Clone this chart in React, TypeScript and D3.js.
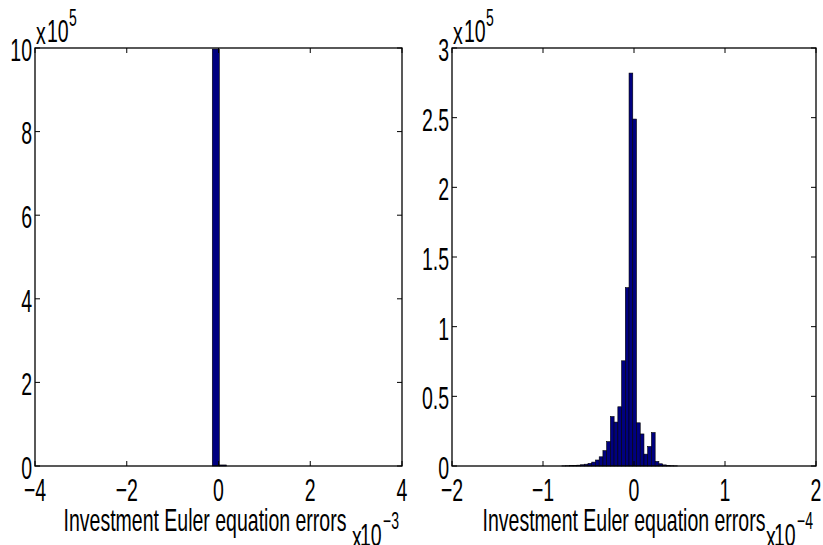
import React from 'react';
import * as d3 from 'd3';

// left panel: errors in units of 1e-3, counts raw
const leftCenters = [-0.059, 0.094];
const leftCounts = [997500, 2500];
const leftBinWidth = 0.153;
const leftXTicks = [-4, -2, 0, 2, 4];
const leftYTicks = [0, 2, 4, 6, 8, 10]; // x 1e5

// right panel: errors in units of 1e-4, counts in units of 1e5
const rightCenters = [
    -0.772, -0.731, -0.690, -0.649, -0.608, -0.567, -0.526, -0.485, -0.444, -0.403,
    -0.362, -0.321, -0.280, -0.239, -0.198, -0.157, -0.116, -0.075, -0.034, 0.007,
    0.048, 0.089, 0.130, 0.171, 0.212, 0.253, 0.294, 0.335, 0.376, 0.417, 0.458,
];
const rightCounts = [
    0.001, 0.002, 0.003, 0.004, 0.006, 0.009, 0.013, 0.019, 0.028, 0.043,
    0.066, 0.11, 0.175, 0.355, 0.315, 0.425, 0.755, 1.28, 2.82, 2.49,
    0.31, 0.23, 0.085, 0.14, 0.24, 0.033, 0.016, 0.008, 0.004, 0.002, 0.001,
];
const rightBinWidth = 0.041;
const rightXTicks = [-2, -1, 0, 1, 2];
const rightYTicks = [0, 0.5, 1, 1.5, 2, 2.5, 3];

const xLabel = 'Investment Euler equation errors';

const FONT = "'Liberation Sans', Arial, sans-serif";
const SY = 1.65;   // the original text is stretched vertically
const FS = 19.5;
const FS_SUP = 14;

const top = 48;
const bottom = 466;
const tick = 5;

function Txt({x, y, anchor = 'middle', size = FS, children}) {
    return (
        <text transform={`translate(${x},${y}) scale(1,${SY})`}
              textAnchor={anchor}
              dominantBaseline="central"
              fontSize={size}
              fontFamily={FONT}
              fill="#000">
            {children}
        </text>
    );
}

const fmt = v => (v < 0 ? '\u2212' + Math.abs(v) : String(v));

function Panel({left, right, xDomain, yDomain, xTicks, yTicks, centers, counts, binWidth, yDiv, xExp, yExp, labelX}) {
    const x = d3.scaleLinear().domain(xDomain).range([left, right]);
    const y = d3.scaleLinear().domain(yDomain).range([bottom, top]);

    return (
        <g>
            {centers.map((c, i) => (
                <rect key={i}
                      x={x(c - binWidth / 2)}
                      y={y(counts[i] / yDiv)}
                      width={x(c + binWidth / 2) - x(c - binWidth / 2)}
                      height={bottom - y(counts[i] / yDiv)}
                      fill="#000080"
                      stroke="#000"
                      strokeWidth={0.6}/>
            ))}

            <rect x={left} y={top} width={right - left} height={bottom - top}
                  fill="none" stroke="#000" strokeWidth={1.3}/>

            {xTicks.map(t => (
                <g key={'x' + t}>
                    <line x1={x(t)} x2={x(t)} y1={bottom} y2={bottom - tick} stroke="#000"/>
                    <line x1={x(t)} x2={x(t)} y1={top} y2={top + tick} stroke="#000"/>
                    <Txt x={x(t)} y={bottom + 24}>{fmt(t)}</Txt>
                </g>
            ))}

            {yTicks.map(t => (
                <g key={'y' + t}>
                    <line x1={left} x2={left + tick} y1={y(t)} y2={y(t)} stroke="#000"/>
                    <line x1={right} x2={right - tick} y1={y(t)} y2={y(t)} stroke="#000"/>
                    <Txt x={left - 3} y={y(t) + 2} anchor="end">{String(t)}</Txt>
                </g>
            ))}

            {/* exponent on the y axis */}
            <Txt x={left + 1} y={33} anchor="start">x</Txt>
            <Txt x={left + 12} y={31} anchor="start">10</Txt>
            <Txt x={left + 34} y={18} anchor="start" size={FS_SUP}>{yExp}</Txt>

            <Txt x={labelX} y={520}>{xLabel}</Txt>

            {/* exponent on the x axis */}
            <Txt x={right - 50} y={537} anchor="start">x</Txt>
            <Txt x={right - 42} y={535} anchor="start">10</Txt>
            <Txt x={right - 19} y={521} anchor="start" size={FS_SUP}>{xExp}</Txt>
        </g>
    );
}

export default function App() {
    return (
        <svg width={823} height={545} viewBox="0 0 823 545"
             style={{position: 'absolute', left: 0, top: 0, background: '#fff'}}>
            <rect width={823} height={545} fill="#fff"/>
            <Panel left={35} right={402}
                   xDomain={[-4, 4]} yDomain={[0, 10]}
                   xTicks={leftXTicks} yTicks={leftYTicks}
                   centers={leftCenters} counts={leftCounts} binWidth={leftBinWidth}
                   yDiv={1e5} xExp={'\u22123'} yExp="5" labelX={205}/>
            <Panel left={452} right={816}
                   xDomain={[-2, 2]} yDomain={[0, 3]}
                   xTicks={rightXTicks} yTicks={rightYTicks}
                   centers={rightCenters} counts={rightCounts} binWidth={rightBinWidth}
                   yDiv={1} xExp={'\u22124'} yExp="5" labelX={624}/>
        </svg>
    );
}
